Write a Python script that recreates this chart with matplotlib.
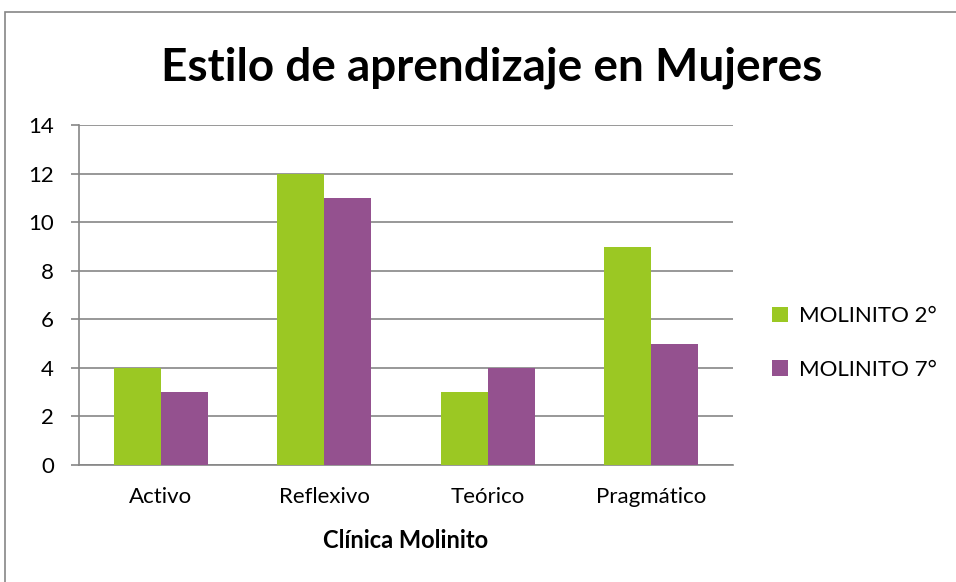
import numpy as np
import matplotlib.pyplot as plt
from matplotlib.patches import Rectangle

categorias = ["Activo", "Reflexivo", "Teórico", "Pragmático"]
series = ["MOLINITO 2°", "MOLINITO 7°"]
molinito_2 = [4, 12, 3, 9]
molinito_7 = [3, 11, 4, 5]
colores = ["#9BC823", "#94518F"]

plt.rcParams["font.family"] = ["Lato", "DejaVu Sans"]

fig = plt.figure(figsize=(9.56, 5.82), dpi=100)
ax = fig.add_axes([0.0826, 0.201, 0.6841, 0.584])

# borde exterior del gráfico
fig.patches.append(Rectangle((5 / 956, -0.01), 1.0, 1 - 12 / 582 + 0.01,
                             transform=fig.transFigure, fill=False,
                             edgecolor="#868686", linewidth=1.2))

x = np.arange(len(categorias))
ancho = 0.288
ax.bar(x - ancho / 2, molinito_2, ancho, color=colores[0], label=series[0], zorder=3)
ax.bar(x + ancho / 2, molinito_7, ancho, color=colores[1], label=series[1], zorder=3)

ax.set_xlim(-0.5, len(categorias) - 0.5)
ax.set_ylim(0, 14)
ax.set_yticks(range(0, 15, 2))
ax.set_xticks(x)
ax.set_xticklabels(categorias)

ax.grid(axis="y", color="#868686", linewidth=1.2, zorder=0)
ax.set_axisbelow(True)
for lado in ["top", "right"]:
    ax.spines[lado].set_visible(False)
ax.spines["left"].set_color("#868686")
ax.spines["bottom"].set_color("#868686")
ax.spines["left"].set_linewidth(1.2)
ax.spines["bottom"].set_linewidth(1.2)
ax.tick_params(axis="y", length=6, width=1.2, color="#868686", labelsize=16, pad=12)
ax.tick_params(axis="x", length=0, labelsize=16, pad=16)

ax.set_xlabel("Clínica Molinito", fontsize=17, fontweight="bold", labelpad=16)

fig.text(492 / 956, 1 - 68 / 582, "Estilo de aprendizaje en Mujeres",
         ha="center", va="center", fontsize=33, fontweight="bold")

fig.legend(loc="center left", bbox_to_anchor=(772 / 956, 1 - 343 / 582),
           frameon=False, fontsize=16, handlelength=0.7, handleheight=0.7,
           labelspacing=1.5, handletextpad=0.5, borderaxespad=0, borderpad=0)

fig.savefig("out.png", dpi=100)
